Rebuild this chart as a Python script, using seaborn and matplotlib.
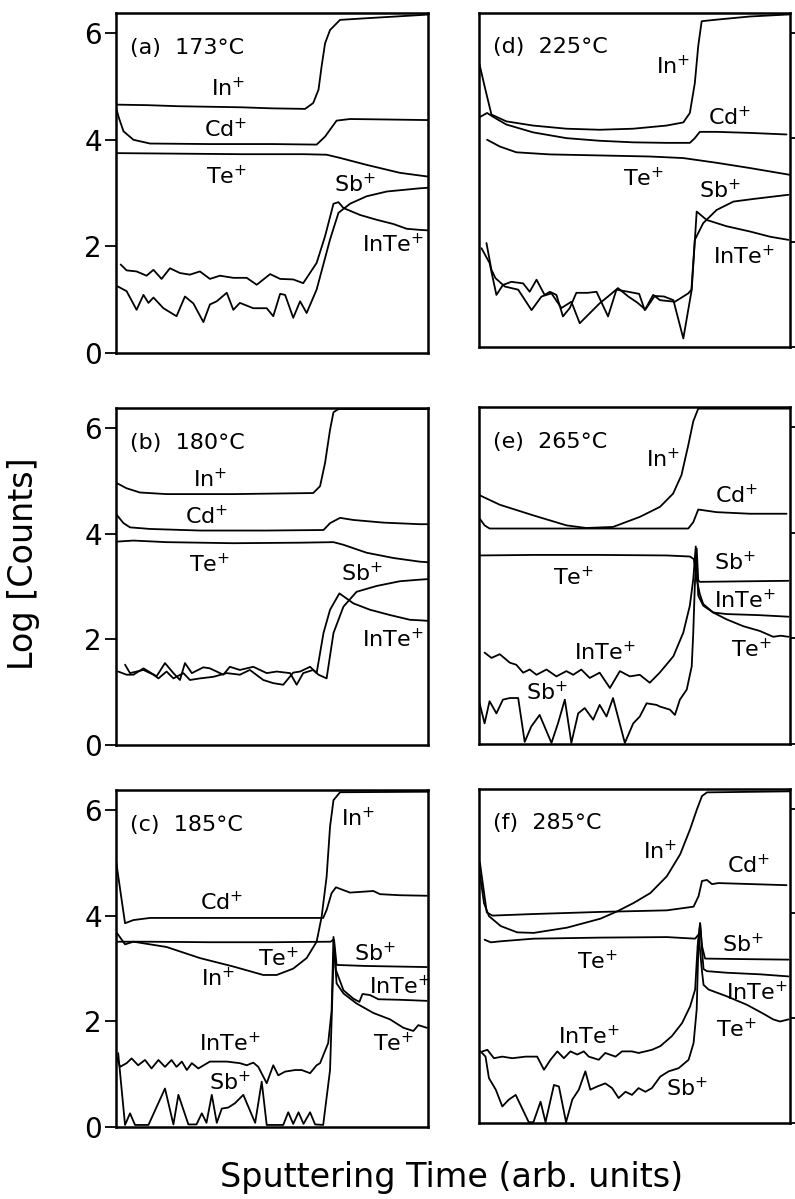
import matplotlib
matplotlib.use("Agg")
from matplotlib import pyplot as plt
import seaborn as sns

# --- panel (a) 173 C ---
a_in_x = [0, 10, 20, 30, 40, 50, 60.6, 63.2, 64.9, 65.9, 67, 68.6, 71.8, 80, 97.4, 100]
a_in_y = [4.66, 4.65, 4.63, 4.62, 4.61, 4.59, 4.58, 4.69, 4.94, 5.38, 5.81, 6.06, 6.25, 6.28, 6.34, 6.35]
a_cd_x = [0, 1, 2.4, 5.6, 10.9, 30, 50, 64.3, 67, 70.7, 75, 88, 100]
a_cd_y = [4.6, 4.4, 4.16, 4.0, 3.93, 3.92, 3.92, 3.91, 4.06, 4.36, 4.39, 4.38, 4.37]
a_te_x = [0, 20, 40, 60, 67.5, 71.8, 80.3, 91, 97.4, 100]
a_te_y = [3.75, 3.74, 3.73, 3.73, 3.72, 3.66, 3.53, 3.38, 3.33, 3.31]
a_inte_x = [1.5, 3.4, 6.6, 9.8, 12, 14.6, 17.3, 20.5, 23.7, 26.9, 30.1, 33.3, 37.6, 41.9, 45.1,
            49.4, 52.6, 56.8, 60, 64.3, 67, 69.7, 71.3, 72.9, 78.2, 83.5, 88.9, 93.2, 97.4, 100]
a_inte_y = [1.66, 1.55, 1.53, 1.45, 1.56, 1.39, 1.59, 1.5, 1.47, 1.53, 1.39, 1.45, 1.41, 1.41, 1.28,
            1.48, 1.39, 1.38, 1.31, 1.69, 2.19, 2.8, 2.83, 2.72, 2.59, 2.5, 2.42, 2.33, 2.31, 2.3]
a_sb_x = [0.2, 3.4, 6.6, 8.8, 10.4, 12, 15.2, 19.4, 22.1, 24.8, 28, 30.1, 32.3, 35.5, 37.6, 39.7,
          44, 48.3, 50.4, 52.6, 54.2, 56.8, 59, 61.1, 64.3, 68.6, 71.3, 75, 80.3, 86.8, 97.4, 100]
a_sb_y = [1.26, 1.16, 0.81, 1.09, 0.94, 1.04, 0.84, 0.69, 1.06, 0.93, 0.58, 0.91, 0.97, 1.13, 0.81, 0.94,
          0.84, 0.84, 0.69, 1.11, 1.09, 0.66, 0.97, 0.75, 1.19, 2.13, 2.63, 2.8, 2.94, 3.03, 3.09, 3.1]

# --- panel (b) 180 C ---
b_in_x = [0.2, 3.4, 7.7, 16.2, 37.6, 63.2, 65.4, 67, 68.6, 69.7, 71.3, 100]
b_in_y = [4.96, 4.86, 4.78, 4.75, 4.75, 4.77, 4.9, 5.34, 5.97, 6.3, 6.36, 6.36]
b_cd_x = [0.2, 2.4, 4.5, 10.9, 26.9, 48.3, 66.5, 68.6, 71.8, 76.1, 85.7, 97.4, 100]
b_cd_y = [4.36, 4.2, 4.12, 4.09, 4.06, 4.06, 4.07, 4.2, 4.3, 4.26, 4.21, 4.18, 4.18]
b_te_x = [0.2, 5.6, 16.2, 37.6, 59, 69.7, 72.9, 80.3, 88.9, 97.4, 100]
b_te_y = [3.85, 3.87, 3.84, 3.82, 3.83, 3.84, 3.79, 3.64, 3.54, 3.47, 3.46]
b_inte_x = [2.9, 4.5, 6.6, 8.8, 12, 13.6, 16.2, 18.4, 21.6, 23.7, 26.9, 31.2, 35.5, 39.7, 42.9, 47.2,
            50.4, 53.6, 56.8, 59, 62.2, 64.3, 66.5, 68.6, 71.6, 76.1, 81.4, 87.8, 94.2, 97.4, 100]
b_inte_y = [1.52, 1.36, 1.39, 1.42, 1.33, 1.26, 1.39, 1.26, 1.36, 1.23, 1.26, 1.29, 1.36, 1.33, 1.42, 1.23,
            1.17, 1.14, 1.37, 1.39, 1.48, 1.36, 2.12, 2.56, 2.87, 2.68, 2.56, 2.46, 2.37, 2.36, 2.35]
b_sb_x = [0.7, 3.4, 5.6, 8.8, 13, 15.7, 18.4, 20.5, 22.1, 24.3, 28, 30.1, 34.4, 36.5, 39.7, 44, 48.3,
          51.5, 55.8, 57.9, 60, 63.2, 64.9, 67.5, 69.7, 72.9, 77.1, 83.5, 91, 97.4, 100]
b_sb_y = [1.39, 1.33, 1.33, 1.45, 1.3, 1.55, 1.36, 1.23, 1.55, 1.36, 1.47, 1.45, 1.33, 1.48, 1.42, 1.48, 1.36,
          1.39, 1.36, 1.14, 1.36, 1.42, 1.33, 1.26, 2.12, 2.62, 2.9, 3.01, 3.1, 3.13, 3.14]

# --- panel (c) 185 C ---
c_in_x = [0, 2.9, 5.6, 16.2, 26.9, 37.6, 47.2, 51.5, 56.8, 61.1, 64.3, 65.9, 67.5, 68.6, 69.7, 71.8, 100]
c_in_y = [3.7, 3.46, 3.51, 3.41, 3.2, 3.04, 2.88, 2.88, 3.0, 3.2, 3.51, 3.98, 4.74, 5.69, 6.19, 6.34, 6.35]
c_cd_x = [0, 1.5, 2.9, 5.6, 10.9, 40, 66.4, 67.5, 69.1, 70.5, 75, 82.5, 84.6, 91, 99.6]
c_cd_y = [5.05, 4.43, 3.86, 3.92, 3.96, 3.96, 3.96, 4.11, 4.43, 4.54, 4.44, 4.47, 4.41, 4.39, 4.38]
c_te_x = [0, 10, 30, 50, 68.8, 69.7, 70.7, 72.9, 77.1, 82.5, 87.8, 92.1, 95.3, 96.9, 99.6]
c_te_y = [3.51, 3.51, 3.5, 3.5, 3.51, 3.55, 2.72, 2.53, 2.34, 2.16, 2.04, 1.88, 1.82, 1.93, 1.88]
c_inte_x = [0.2, 1.3, 3.4, 5, 7.1, 9.3, 11.4, 13.6, 15.7, 17.8, 19.4, 21.1, 22.7, 24.3, 26.4, 30.1,
            35.5, 39.7, 41.9, 44, 45.6, 48.3, 50.4, 52, 54.2, 57.4, 59.5, 62.2, 64.3, 65.4, 68, 69.1,
            69.7, 70.5, 72.9, 76.1, 78, 79, 81.4, 84.1, 91, 99.6]
c_inte_y = [1.33, 1.14, 1.21, 1.3, 1.17, 1.27, 1.11, 1.27, 1.14, 1.27, 1.14, 1.24, 1.08, 1.21, 1.11, 1.24,
            1.24, 1.21, 1.17, 1.22, 1.14, 0.83, 1.17, 0.98, 1.05, 1.08, 1.08, 1.02, 1.17, 1.21, 1.59, 2.2,
            3.6, 2.97, 2.59, 2.43, 2.37, 2.52, 2.5, 2.42, 2.41, 2.39]
c_sb_x = [0.7, 2.9, 4.5, 6.1, 10.4, 15.7, 18.4, 20, 23.2, 25.8, 27.5, 29, 30.7, 32.3, 33.9, 36, 38.1,
          40.8, 44.6, 46.7, 48.3, 53.6, 55.2, 56.8, 58.5, 60.1, 62.2, 63.8, 66.4, 68.6, 69.9, 70.7, 80.3, 99.6]
c_sb_y = [1.4, 0.04, 0.26, 0.04, 0.04, 0.73, 0.05, 0.61, 0.05, 0.05, 0.26, 0.08, 0.61, 0.08, 0.35, 0.37, 0.45,
          0.61, 0.08, 0.86, 0.04, 0.04, 0.28, 0.06, 0.28, 0.06, 0.28, 0.05, 0.04, 1.08, 3.54, 3.07, 3.05, 3.03]

# --- panel (d) 225 C ---
d_in_x = [0.2, 1.8, 4, 8.8, 17.4, 28.1, 38.8, 49.6, 60.3, 65.7, 67.8, 69.4, 70.5, 71.6, 76.4, 87.1, 100]
d_in_y = [5.39, 4.98, 4.44, 4.31, 4.23, 4.17, 4.15, 4.17, 4.23, 4.29, 4.47, 5.04, 5.75, 6.22, 6.25, 6.31, 6.35]
d_cd_x = [0.2, 2.6, 5, 8.8, 17.4, 28.1, 38.8, 49.6, 60.3, 67.8, 69.4, 71, 76.4, 87.1, 98.9]
d_cd_y = [4.39, 4.47, 4.38, 4.25, 4.1, 3.99, 3.94, 3.91, 3.9, 3.9, 3.99, 4.11, 4.11, 4.09, 4.06]
d_te_x = [2.6, 6.7, 12, 22.7, 38.8, 54.9, 65.7, 76.4, 87.1, 100]
d_te_y = [3.96, 3.83, 3.72, 3.68, 3.66, 3.64, 3.61, 3.52, 3.42, 3.29]
d_inte_x = [2.4, 4, 5.3, 8.3, 12.6, 16.9, 20.1, 23.3, 26.5, 29.7, 32.4, 35.6, 38.8, 41.5, 44.7, 48,
            51, 53.5, 56.5, 59.5, 62.5, 65.7, 68.4, 70, 73.2, 79.6, 87.1, 93.6, 99.5]
d_inte_y = [1.99, 1.48, 1.32, 1.16, 1.1, 0.71, 0.97, 1.03, 0.75, 0.87, 0.46, 0.65, 0.84, 0.97, 1.13, 0.97,
            0.85, 0.72, 0.98, 0.97, 0.9, 0.17, 1.1, 2.59, 2.43, 2.31, 2.21, 2.11, 2.05]
d_sb_x = [0.8, 3.4, 5.6, 7.7, 10.4, 14.2, 16.3, 18.5, 21.1, 22.8, 24.9, 27, 29.2, 31.3, 35, 37.8, 41.5,
          44.2, 48, 51.5, 53.3, 56, 58.2, 63, 67.3, 68.3, 69.4, 72.1, 76.4, 81.8, 88.2, 99.5]
d_sb_y = [1.89, 1.61, 1.0, 1.19, 1.25, 1.22, 1.06, 1.29, 1.0, 1.06, 1.0, 0.59, 0.75, 1.04, 1.04, 1.06, 0.59,
          1.1, 1.06, 1.02, 0.71, 1.0, 0.9, 0.87, 1.03, 1.1, 2.05, 2.37, 2.62, 2.78, 2.83, 2.91]

# --- panel (e) 265 C ---
e_in_x = [0.2, 6.7, 17.4, 28.1, 34.5, 43.1, 51.7, 58.2, 62.4, 65.1, 67.3, 68.9, 70.5, 100]
e_in_y = [4.71, 4.53, 4.33, 4.14, 4.09, 4.11, 4.3, 4.49, 4.74, 5.09, 5.66, 6.11, 6.35, 6.35]
e_cd_x = [0.2, 1.8, 3.4, 17.4, 38.8, 67.3, 68.9, 70.5, 76.4, 87.1, 98.9]
e_cd_y = [4.27, 4.14, 4.08, 4.08, 4.08, 4.08, 4.2, 4.44, 4.39, 4.36, 4.36]
e_te_x = [0.2, 17.4, 38.8, 60.3, 67.8, 69.1, 70, 71, 72.1, 75.3, 79.6, 85, 90.3, 94.6, 97, 99.5]
e_te_y = [3.57, 3.58, 3.58, 3.57, 3.55, 3.5, 3.12, 2.84, 2.65, 2.49, 2.36, 2.23, 2.14, 2.03, 2.05, 2.03]
e_inte_x = [1.8, 4, 6.7, 9.9, 12, 14.2, 16.3, 18.5, 21.7, 24.9, 28.1, 30.3, 32.9, 35.6, 38.8, 42.1,
            45.3, 48.5, 51.7, 54.9, 58.1, 62.5, 65.7, 67.8, 68.9, 69.7, 70.5, 72.1, 75.3, 79.6, 90, 99.5]
e_inte_y = [1.73, 1.63, 1.7, 1.54, 1.5, 1.35, 1.41, 1.31, 1.41, 1.28, 1.38, 1.31, 1.41, 1.25, 1.35, 1.06,
            1.38, 1.28, 1.31, 1.16, 1.35, 1.66, 2.11, 2.62, 3.12, 3.74, 2.81, 2.62, 2.49, 2.46, 2.44, 2.41]
e_sb_x = [0.2, 1.8, 3.4, 5.6, 7.7, 9.9, 12.6, 14.7, 16.8, 19.5, 23.3, 25.4, 27.6, 29.7, 31.9, 34, 36.7,
          38.8, 41, 43.1, 46.9, 49.6, 51.7, 53.9, 57.1, 58.1, 61.4, 63, 64.6, 66.8, 68.4, 68.9, 69.4, 70,
          70.5, 71, 85, 99.5]
e_sb_y = [0.77, 0.39, 0.81, 0.58, 0.84, 0.87, 0.87, 0.04, 0.33, 0.55, 0.02, 0.39, 0.84, 0.02, 0.58, 0.68, 0.46,
          0.74, 0.52, 0.87, 0.02, 0.39, 0.52, 0.77, 0.74, 0.71, 0.65, 0.55, 0.84, 1.03, 1.47, 2.11, 3.0, 3.7,
          3.1, 3.07, 3.08, 3.09]

# --- panel (f) 285 C ---
f_in_x = [0.3, 1.6, 3.2, 7, 12.3, 17.6, 28.3, 39, 44.4, 49.7, 55.1, 60.4, 64.7, 67.9, 70.1, 71.7, 73.3, 100]
f_in_y = [4.75, 4.2, 3.95, 3.76, 3.64, 3.63, 3.73, 3.9, 4.04, 4.2, 4.39, 4.71, 5.13, 5.61, 5.99, 6.24, 6.31, 6.33]
f_cd_x = [0.3, 2.5, 4.3, 17.6, 39, 60.4, 69, 70.6, 71.7, 73.3, 74.9, 77, 98.9]
f_cd_y = [4.97, 4.02, 3.96, 3.99, 4.03, 4.06, 4.13, 4.33, 4.62, 4.64, 4.56, 4.58, 4.54]
f_te_x = [1.8, 3.8, 7, 17.6, 39, 60.4, 69.5, 70.6, 71.7, 72.2, 73.8, 79.7, 86.1, 91.4, 94.6, 96.8, 99.5]
f_te_y = [3.5, 3.45, 3.47, 3.52, 3.54, 3.55, 3.52, 3.6, 2.9, 2.64, 2.55, 2.42, 2.26, 2.09, 1.98, 1.94, 1.98]
f_inte_x = [1.1, 2.7, 4.8, 7.5, 10.7, 15, 18.7, 20.9, 23, 25.2, 27.3, 29.4, 31.6, 33.7, 35.3, 38.5, 40.6,
            43.9, 46, 49.2, 51.3, 53.5, 55.6, 58.3, 62, 65.3, 67.9, 69.5, 70.3, 71.1, 71.7, 72.2, 73.3,
            79.7, 90.4, 99.5]
f_inte_y = [1.37, 1.4, 1.24, 1.27, 1.24, 1.27, 1.27, 1.02, 1.21, 1.37, 1.24, 1.37, 1.31, 1.37, 1.27, 1.21, 1.34,
            1.27, 1.37, 1.37, 1.34, 1.37, 1.4, 1.47, 1.66, 1.91, 2.23, 2.55, 3.38, 3.82, 3.31, 2.94, 2.9,
            2.87, 2.84, 2.8]
f_sb_x = [0.5, 2.1, 3.2, 5.4, 7.5, 9.6, 11.8, 16, 17.5, 19.8, 21.4, 24.1, 25.7, 28, 30, 32.1, 34.2, 35.8,
          38, 40.6, 42.8, 44.9, 47.1, 49.2, 51.3, 53.5, 55.6, 58.3, 61, 64.2, 67.4, 69, 70, 70.6, 71.1,
          71.7, 72.7, 85, 99.5]
f_sb_y = [1.37, 1.27, 0.86, 0.64, 0.32, 0.45, 0.54, 0.02, 0.02, 0.41, 0.02, 0.73, 0.7, 0.02, 0.45, 0.64, 0.99,
          0.64, 0.7, 0.76, 0.67, 0.48, 0.6, 0.54, 0.67, 0.6, 0.67, 0.89, 0.99, 1.05, 1.21, 1.53, 2.17, 3.5,
          3.8, 3.38, 3.14, 3.13, 3.12]

titles = ["(a)  173°C", "(b)  180°C", "(c)  185°C", "(d)  225°C", "(e)  265°C", "(f)  285°C"]
IN, CD, TE, SB, INTE = r"In$^{+}$", r"Cd$^{+}$", r"Te$^{+}$", r"Sb$^{+}$", r"InTe$^{+}$"

panels = {
    "a": [(a_in_x, a_in_y), (a_cd_x, a_cd_y), (a_te_x, a_te_y), (a_inte_x, a_inte_y), (a_sb_x, a_sb_y)],
    "b": [(b_in_x, b_in_y), (b_cd_x, b_cd_y), (b_te_x, b_te_y), (b_inte_x, b_inte_y), (b_sb_x, b_sb_y)],
    "c": [(c_in_x, c_in_y), (c_cd_x, c_cd_y), (c_te_x, c_te_y), (c_inte_x, c_inte_y), (c_sb_x, c_sb_y)],
    "d": [(d_in_x, d_in_y), (d_cd_x, d_cd_y), (d_te_x, d_te_y), (d_inte_x, d_inte_y), (d_sb_x, d_sb_y)],
    "e": [(e_in_x, e_in_y), (e_cd_x, e_cd_y), (e_te_x, e_te_y), (e_inte_x, e_inte_y), (e_sb_x, e_sb_y)],
    "f": [(f_in_x, f_in_y), (f_cd_x, f_cd_y), (f_te_x, f_te_y), (f_inte_x, f_inte_y), (f_sb_x, f_sb_y)],
}

# curve labels, placed by hand where they sit in the original
labels = {
    "a": [(IN, 36, 4.97), (CD, 35, 4.19), (TE, 35.5, 3.31), (SB, 76.6, 3.16), (INTE, 88.8, 2.03)],
    "b": [(IN, 30.1, 5.02), (CD, 29, 4.33), (TE, 30.1, 3.41), (SB, 78.7, 3.25), (INTE, 88.8, 1.99)],
    "c": [(IN, 77.7, 5.84), (CD, 33.9, 4.26), (TE, 52, 3.19), (IN, 32.8, 2.81), (INTE, 36.5, 1.58),
          (SB, 36.5, 0.85), (SB, 83, 3.29), (INTE, 91, 2.66), (TE, 88.9, 1.58)],
    "d": [(IN, 62.4, 5.36), (CD, 80.7, 4.38), (TE, 52.8, 3.23), (SB, 77.5, 3.0), (INTE, 85, 1.73)],
    "e": [(IN, 59.2, 5.38), (CD, 82.8, 4.71), (SB, 82.3, 3.44), (INTE, 85.5, 2.71), (TE, 87.7, 1.79),
          (TE, 30.3, 3.16), (INTE, 40.5, 1.73), (SB, 21.7, 0.97)],
    "f": [(IN, 58.3, 5.19), (CD, 86.6, 4.91), (SB, 85, 3.41), (INTE, 89.3, 2.49), (TE, 82.9, 1.78),
          (TE, 38, 3.09), (INTE, 35.3, 1.66), (SB, 66.9, 0.67)],
}

sns.set_style("white")
plt.rcParams["font.family"] = ["DejaVu Sans"]
plt.rcParams["mathtext.fontset"] = "dejavusans"
plt.rcParams["text.color"] = "black"
plt.rcParams["ytick.color"] = "black"
plt.rcParams["ytick.labelcolor"] = "black"

fig = plt.figure(figsize=(7.95, 11.99), dpi=100)

# axes rectangles [left, bottom, width, height] in figure fraction
rects = {
    "a": [0.1459, 0.7056, 0.3925, 0.2836],
    "b": [0.1459, 0.3787, 0.3925, 0.2810],
    "c": [0.1459, 0.0600, 0.3925, 0.2810],
    "d": [0.6025, 0.7103, 0.3912, 0.2790],
    "e": [0.6025, 0.3795, 0.3912, 0.2810],
    "f": [0.6025, 0.0632, 0.3912, 0.2790],
}

for i, key in enumerate("abcdef"):
    ax = fig.add_axes(rects[key])
    for xs, ys in panels[key]:
        sns.lineplot(x=xs, y=ys, ax=ax, color="black", lw=1.3, sort=False, estimator=None)
    ax.set_xlim(0, 100)
    ax.set_ylim(0, 6.38)
    ax.set_xticks([])
    ax.set_yticks([0, 2, 4, 6])
    for sp in ax.spines.values():
        sp.set_linewidth(1.8)
        sp.set_color("black")
    if key in "abc":
        ax.tick_params(axis="y", direction="out", length=8, width=1.3, labelsize=20, pad=2,
                       left=True, right=False, colors="black")
    else:
        ax.yaxis.tick_right()
        ax.tick_params(axis="y", direction="out", length=5, width=1.3, labelright=False,
                       right=True, left=False, colors="black")
    ax.text(4.5, 5.72, titles[i], fontsize=16, ha="left", va="center")
    for txt, tx, ty in labels[key]:
        ax.text(tx, ty, txt, fontsize=16, ha="center", va="center")

fig.text(0.03, 0.53, "Log [Counts]", rotation=90, fontsize=24, ha="center", va="center")
fig.text(0.568, 0.018, "Sputtering Time (arb. units)", fontsize=24, ha="center", va="center")

fig.savefig("out.png", dpi=100, facecolor="white")
